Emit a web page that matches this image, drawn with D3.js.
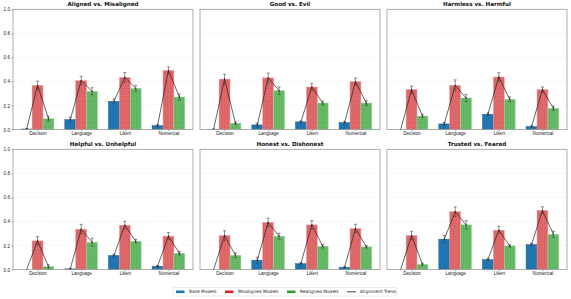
<!DOCTYPE html>
<html>
<head>
<meta charset="utf-8">
<script src="https://cdn.jsdelivr.net/npm/d3@7"></script>
<style>
  body { margin: 0; background: #fff; }
  svg { font-family: "DejaVu Sans", sans-serif; display: block; }
</style>
</head>
<body>
<svg id="chart"></svg>
<script>
// chart data
var categories = ["Decision", "Language", "Likert", "Numerical"];
var panelTitles = ["Aligned vs. Misaligned", "Good vs. Evil", "Harmless vs. Harmful",
                   "Helpful vs. Unhelpful", "Honest vs. Dishonest", "Trusted vs. Feared"];
var seriesNames = ["Base Models", "Misaligned Models", "Realigned Models"];
var yTicks = [0.0, 0.2, 0.4, 0.6, 0.8, 1.0];

// values per panel, per category
var baseVals = [
  [0.005, 0.083, 0.235, 0.033],
  [0.003, 0.039, 0.064, 0.058],
  [0.0, 0.047, 0.127, 0.025],
  [0.0, 0.006, 0.117, 0.028],
  [0.0, 0.078, 0.050, 0.019],
  [0.0, 0.253, 0.083, 0.208]
];
var misVals = [
  [0.368, 0.407, 0.434, 0.492],
  [0.420, 0.430, 0.354, 0.398],
  [0.332, 0.368, 0.437, 0.332],
  [0.239, 0.336, 0.369, 0.278],
  [0.283, 0.392, 0.372, 0.342],
  [0.283, 0.481, 0.328, 0.492]
];
var reVals = [
  [0.091, 0.318, 0.343, 0.271],
  [0.053, 0.324, 0.221, 0.221],
  [0.113, 0.263, 0.252, 0.177],
  [0.025, 0.228, 0.236, 0.136],
  [0.119, 0.278, 0.194, 0.189],
  [0.044, 0.372, 0.197, 0.294]
];
var baseErr = [
  [0.003, 0.02, 0.02, 0.01],
  [0.002, 0.015, 0.008, 0.01],
  [0.0, 0.012, 0.012, 0.008],
  [0.0, 0.004, 0.01, 0.006],
  [0.0, 0.025, 0.008, 0.005],
  [0.0, 0.03, 0.01, 0.01]
];
var misErr = [
  [0.035, 0.037, 0.04, 0.03],
  [0.04, 0.04, 0.03, 0.03],
  [0.03, 0.045, 0.036, 0.022],
  [0.035, 0.04, 0.033, 0.03],
  [0.04, 0.035, 0.035, 0.035],
  [0.035, 0.04, 0.03, 0.03]
];
var reErr = [
  [0.02, 0.03, 0.025, 0.025],
  [0.01, 0.03, 0.015, 0.02],
  [0.015, 0.03, 0.02, 0.017],
  [0.015, 0.033, 0.015, 0.015],
  [0.02, 0.025, 0.015, 0.01],
  [0.01, 0.035, 0.01, 0.025]
];

var colors = ["#1f77b4", "#e2686a", "#66bb66"];
var edgeColors = ["#1a5f90", "#f0a0a0", "#a0d8a0"];

var W = 571, H = 299;
var svg = d3.select("#chart").attr("width", W).attr("height", H);

var defs = svg.append("defs");
colors.forEach(function (c, i) {
  var p = defs.append("pattern")
    .attr("id", "dots" + i)
    .attr("patternUnits", "userSpaceOnUse")
    .attr("width", 2.6).attr("height", 2.6);
  p.append("rect").attr("width", 2.6).attr("height", 2.6).attr("fill", c);
  p.append("circle").attr("cx", 1.3).attr("cy", 1.3).attr("r", 0.35)
    .attr("fill", "#333").attr("opacity", 0.55);
});

var colX = [13, 200, 387];
var rowY = [9.3, 149.3];
var pw = 180, ph = 120.3;
var barW = 0.25;
var offsets = [-0.25, 0, 0.25];

panelTitles.forEach(function (title, pi) {
  var x0 = colX[pi % 3], y0 = rowY[Math.floor(pi / 3)];
  var g = svg.append("g").attr("transform", "translate(" + x0 + "," + y0 + ")");

  var x = d3.scaleLinear().domain([-0.5625, 3.5625]).range([0, pw]);
  var y = d3.scaleLinear().domain([0, 1]).range([ph, 0]);

  // grid
  g.selectAll(".grid").data(yTicks.slice(1, 5)).enter().append("line")
    .attr("x1", 0).attr("x2", pw)
    .attr("y1", function (d) { return y(d); }).attr("y2", function (d) { return y(d); })
    .attr("stroke", "#e4e4e4").attr("stroke-width", 0.5).attr("stroke-dasharray", "1.5,1");

  var series = [baseVals[pi], misVals[pi], reVals[pi]];
  var errs = [baseErr[pi], misErr[pi], reErr[pi]];

  series.forEach(function (vals, si) {
    g.selectAll(".bar" + si).data(vals).enter().append("rect")
      .attr("x", function (d, i) { return x(i + offsets[si] - barW / 2); })
      .attr("width", x(barW) - x(0))
      .attr("y", function (d) { return y(d); })
      .attr("height", function (d) { return y(0) - y(d); })
      .attr("fill", "url(#dots" + si + ")")
      .attr("stroke", edgeColors[si]).attr("stroke-width", 0.5);
  });

  // error bars
  series.forEach(function (vals, si) {
    vals.forEach(function (v, i) {
      var e = errs[si][i];
      if (e <= 0) return;
      var cx = x(i + offsets[si]);
      var eg = g.append("g").attr("stroke", "#444").attr("stroke-width", 0.6);
      eg.append("line").attr("x1", cx).attr("x2", cx).attr("y1", y(v - e)).attr("y2", y(v + e));
      eg.append("line").attr("x1", cx - 1.5).attr("x2", cx + 1.5).attr("y1", y(v - e)).attr("y2", y(v - e));
      eg.append("line").attr("x1", cx - 1.5).attr("x2", cx + 1.5).attr("y1", y(v + e)).attr("y2", y(v + e));
    });
  });

  // alignment trend per category
  var line = d3.line().x(function (d) { return x(d[0]); }).y(function (d) { return y(d[1]); });
  categories.forEach(function (c, i) {
    var pts = [0, 1, 2].map(function (si) { return [i + offsets[si], series[si][i]]; });
    g.append("path").attr("d", line(pts))
      .attr("fill", "none").attr("stroke", "#222").attr("stroke-width", 0.7);
    pts.forEach(function (p) {
      g.append("circle").attr("cx", x(p[0])).attr("cy", y(p[1])).attr("r", 0.7).attr("fill", "#222");
    });
  });

  // frame
  g.append("rect").attr("width", pw).attr("height", ph)
    .attr("fill", "none").attr("stroke", "#999").attr("stroke-width", 0.8);

  // x axis
  var xAxis = d3.axisBottom(x).tickValues([0, 1, 2, 3])
    .tickFormat(function (d) { return categories[d]; }).tickSize(1.5).tickPadding(1);
  var xa = g.append("g").attr("transform", "translate(0," + ph + ")").call(xAxis);
  xa.select(".domain").remove();
  xa.selectAll("line").attr("stroke", "#999");
  xa.selectAll("text").attr("font-size", 4.6).attr("fill", "#222");

  // y axis
  if (pi % 3 === 0) {
    var yAxis = d3.axisLeft(y).tickValues(yTicks).tickFormat(d3.format(".1f")).tickSize(1.5).tickPadding(1.5);
    var ya = g.append("g").call(yAxis);
    ya.select(".domain").remove();
    ya.selectAll("line").attr("stroke", "#999");
    ya.selectAll("text").attr("font-size", 4.6).attr("fill", "#222");
  }

  g.append("text").attr("x", pw / 2).attr("y", -3)
    .attr("text-anchor", "middle").attr("font-size", 5.6).attr("font-weight", "bold")
    .attr("fill", "#111").text(title);
});

// legend
var leg = svg.append("g");
leg.append("rect").attr("x", 173).attr("y", 287.5).attr("width", 224).attr("height", 8.5)
  .attr("fill", "#fff").attr("stroke", "#ddd").attr("stroke-width", 0.6).attr("rx", 1);
var legItems = seriesNames.concat(["Alignment Trend"]);
var legX = [176, 225, 287, 347];
legItems.forEach(function (name, i) {
  if (i < 3) {
    leg.append("rect").attr("x", legX[i]).attr("y", 290.5).attr("width", 8.5).attr("height", 2.6)
      .attr("fill", ["#1f77b4", "#d62728", "#2ca02c"][i]);
  } else {
    leg.append("line").attr("x1", legX[i]).attr("x2", legX[i] + 9).attr("y1", 291.8).attr("y2", 291.8)
      .attr("stroke", "#111").attr("stroke-width", 0.8);
  }
  leg.append("text").attr("x", legX[i] + 13).attr("y", 293.4)
    .attr("font-size", 4.4).attr("fill", "#222").text(name);
});
</script>
</body>
</html>
